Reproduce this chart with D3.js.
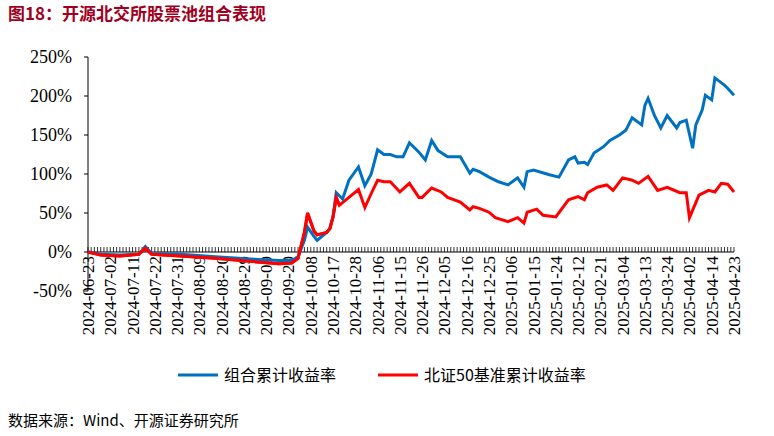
<!DOCTYPE html><html><head><meta charset="utf-8"><script src="https://cdn.jsdelivr.net/npm/d3@7"></script>
<style>body{margin:0;background:#fff}</style></head><body><svg id="c" width="774" height="436"></svg>
<script>
const tickLabels=["2024-06-23","2024-07-02","2024-07-11","2024-07-22","2024-07-31","2024-08-09","2024-08-20","2024-08-29","2024-09-09","2024-09-20","2024-10-08","2024-10-17","2024-10-28","2024-11-06","2024-11-15","2024-11-26","2024-12-05","2024-12-16","2024-12-25","2025-01-06","2025-01-15","2025-01-24","2025-02-12","2025-02-21","2025-03-04","2025-03-13","2025-03-24","2025-04-02","2025-04-14","2025-04-23"];
const blueIdx=[0,4,10,16,18,20,29,40,51,60,64,66,68,69,71,72,75,76,77,78,80,82,85,87,89,91,93,95,97,99,101,104,106,108,110,113,117,120,121,123,126,129,132,135,137,138,140,145,148,151,153,154,156,157,159,162,164,167,169,171,174,175,176,178,180,182,185,186,188,190,191,193,194,196,197,198,200,201,203];
const blueVal=[0,-3,-4,-3,7,-2,-3,-6,-9,-11,-11,-6,15,32,20,15,25,30,45,76,68,92,109,85,100,131,125,125,122,122,140,128,118,143,130,122,122,101,106,103,96,90,86,95,83,103,105,99,96,118,122,114,115,112,127,135,143,150,156,172,163,188,197,175,159,175,159,166,169,133,163,182,201,195,223,220,214,210,201];
const redIdx=[0,4,10,16,18,20,29,40,51,60,64,66,68,69,71,72,75,76,77,78,79,82,85,87,89,91,93,95,98,101,104,105,108,111,113,117,120,121,123,126,128,132,135,137,138,141,143,147,151,154,156,157,160,163,165,168,171,173,176,179,182,186,188,189,192,195,197,199,201,203];
const redVal=[0,-4,-5,-3,5,-3,-5,-8,-12,-15,-14,-8,25,50,27,22,25,30,45,70,60,70,80,57,75,92,90,90,77,88,70,70,82,77,70,64,54,58,56,51,44,39,44,37,51,55,47,45,67,71,67,76,83,86,79,95,92,88,97,79,83,76,76,44,73,79,77,88,87,77];
const yTicks=[-50,0,50,100,150,200,250];
const nDays=204;
const svg=d3.select("#c");
const serif="'Liberation Serif','DejaVu Serif',serif";
svg.append("text").attr("x",8).attr("y",20).attr("font-size",17).attr("font-weight","bold").attr("fill","#a0001e").attr("font-family","'Noto Sans CJK SC',serif").text("图18：开源北交所股票池组合表现");
const x=d3.scaleLinear().domain([0,nDays-1]).range([88,734]);
const y=d3.scaleLinear().domain([-50,250]).range([291,57]);
const g=svg.append("g");
g.append("line").attr("x1",88).attr("x2",88).attr("y1",y(250)).attr("y2",y(-50)).attr("stroke","#000");
yTicks.forEach(t=>{g.append("line").attr("x1",84).attr("x2",88).attr("y1",y(t)).attr("y2",y(t)).attr("stroke","#000");
g.append("text").attr("x",72).attr("y",y(t)+6).attr("text-anchor","end").attr("font-family",serif).attr("font-size",18).text(t+"%");});
g.append("line").attr("x1",88).attr("x2",734).attr("y1",y(0)).attr("y2",y(0)).attr("stroke","#000");
d3.range(nDays).forEach(i=>g.append("line").attr("x1",x(i)).attr("x2",x(i)).attr("y1",y(0)).attr("y2",y(0)-5).attr("stroke","#000").attr("stroke-width",0.8));
tickLabels.forEach((l,k)=>g.append("text").attr("transform",`translate(${x(k*7)+6},256) rotate(-90)`).attr("text-anchor","end").attr("font-family",serif).attr("font-size",17).text(l));
const line=d3.line().x(d=>x(d[0])).y(d=>y(d[1]));
g.append("path").datum(redIdx.map((d,i)=>[d,redVal[i]])).attr("d",line).attr("fill","none").attr("stroke","#ff0000").attr("stroke-width",3);
g.append("path").datum(blueIdx.map((d,i)=>[d,blueVal[i]])).attr("d",line).attr("fill","none").attr("stroke","#0070c0").attr("stroke-width",3);
g.append("path").datum(redIdx.map((d,i)=>[d,redVal[i]]).filter(d=>d[0]<=79)).attr("d",line).attr("fill","none").attr("stroke","#ff0000").attr("stroke-width",3);
const lg=svg.append("g");
lg.append("line").attr("x1",178).attr("x2",218).attr("y1",375).attr("y2",375).attr("stroke","#0070c0").attr("stroke-width",3);
lg.append("text").attr("x",224).attr("y",381).attr("font-size",16).attr("font-family","'Noto Sans CJK SC',serif").text("组合累计收益率");
lg.append("line").attr("x1",378).attr("x2",418).attr("y1",375).attr("y2",375).attr("stroke","#ff0000").attr("stroke-width",3);
lg.append("text").attr("x",424).attr("y",381).attr("font-size",16).attr("font-family","'Noto Sans CJK SC',serif").text("北证50基准累计收益率");
svg.append("text").attr("x",8).attr("y",426).attr("font-size",15).attr("font-family","'Noto Sans CJK SC',serif").text("数据来源：Wind、开源证券研究所");
</script></body></html>
